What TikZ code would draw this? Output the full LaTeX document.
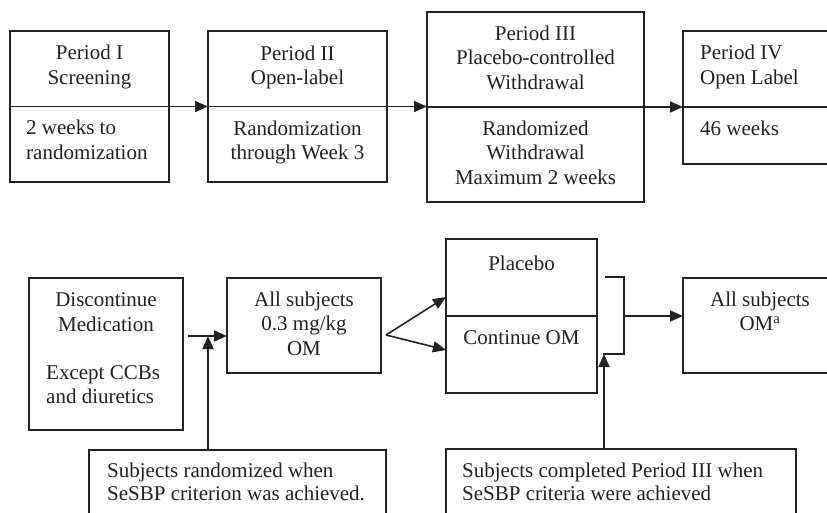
\documentclass[tikz,border=0pt]{standalone}
\usepackage{fontspec}
\setmainfont{Liberation Serif}
\usetikzlibrary{arrows.meta}
\definecolor{ink}{HTML}{222222}
\begin{document}
\begin{tikzpicture}[x=1pt,y=-1pt,
  box/.style={draw=ink, line width=1.6pt, inner sep=0pt, outer sep=0pt},
  lbl/.style={font=\fontsize{21}{24.5}\selectfont, text=ink, inner sep=0pt, align=center},
  lbll/.style={lbl, align=left, anchor=west},
  wire/.style={draw=ink, line width=1.6pt},
  arr/.style={wire, -{Triangle[length=13pt,width=11pt]}}]
\useasboundingbox (0,0) rectangle (827,513);
\fill[white] (0,0) rectangle (827,513);
\clip (0,0) rectangle (827,513);

% ---- study periods (top row) ----
\node[box, minimum width=159pt, minimum height=151pt] (b1) at (89.5,106.5) {};
\node[box, minimum width=179pt, minimum height=151pt] (b2) at (297.5,106.5) {};
\node[box, minimum width=217pt, minimum height=190pt] (b3) at (535.5,107) {};
\node[box, minimum width=159pt, minimum height=133pt] (b4) at (762.5,97.5) {};

\node[lbl] (t1a) at (89.5,67) {Period I\\Screening};
\node[lbll] (t1b) at (26,140) {2 weeks to\\randomization};
\node[lbl] (t2a) at (297.5,67.5) {Period II\\Open-label};
\node[lbl] (t2b) at (297.5,142.5) {Randomization\\through Week 3};
\node[lbl] (t3a) at (535.5,57.5) {Period III\\Placebo-controlled\\Withdrawal};
\node[lbl] (t3b) at (535.5,152.5) {Randomized\\Withdrawal\\Maximum 2 weeks};
\node[lbll] (t4a) at (700,67) {Period IV\\Open Label};
\node[lbll] (t4b) at (700,128) {46 weeks};

% timeline through the boxes
\draw[wire] (b1.west) -- (b1.east);
\draw[arr] (b1.east) -- (b2.west);
\draw[wire] (b2.west) -- (b2.east);
\draw[arr] (b2.east) -- (b2.east -| b3.west);
\draw[wire] (b3.west) -- (b3.east);
\draw[arr] (b3.east) -- (b3.east -| b4.west);
\draw[wire] (b3.east -| b4.west) -- (b3.east -| b4.east);

% ---- treatment flow (bottom row) ----
\node[box, minimum width=154pt, minimum height=152pt] (d1) at (106,354) {};
\node[box, minimum width=154pt, minimum height=95pt] (d2) at (304,325.5) {};
\node[box, minimum width=151pt, minimum height=154pt] (d3) at (521.5,316) {};
\node[box, minimum width=154pt, minimum height=95pt] (d4) at (760,325.5) {};
\node[box, minimum width=297pt, minimum height=80pt] (n1) at (237.5,490) {};
\node[box, minimum width=350pt, minimum height=81pt] (n2) at (621,489.5) {};

\node[lbl] (s1a) at (106,312) {Discontinue\\Medication};
\node[lbll] (s1b) at (46,384.5) {Except CCBs\\and diuretics};
\node[lbl] (s2) at (304,323.7) {All subjects\\0.3 mg/kg\\OM};
\node[lbl] (s3a) at (521.5,263) {Placebo};
\node[lbl] (s3b) at (521.5,338) {Continue OM};
\node[lbl] (s4) at (760,311.5) {All subjects\\OM\textsuperscript{a}};
\node[lbll, font=\fontsize{21}{22.5}\selectfont] (m1) at (107,482) {Subjects randomized when\\SeSBP criterion was achieved.};
\node[lbll, font=\fontsize{21}{23}\selectfont] (m2) at (462,482) {Subjects completed Period III when\\SeSBP criteria were achieved};

\draw[wire] (d3.west) -- (d3.east);

\coordinate (join) at (188,336);
\draw[arr] (join) -- (join -| d2.west);
\coordinate (up1) at (208,336);
\draw[arr] (up1 |- n1.north) -- (up1);

\coordinate (fork) at (386,335);
\coordinate (inPlacebo) at (446,297);
\coordinate (inCont) at (446,350);
\draw[arr] (fork) -- (inPlacebo);
\draw[arr] (fork) -- (inCont);

\coordinate (brTop) at (605,277);
\coordinate (brBot) at (603,354);
\coordinate (brMid) at (624,316);
\draw[wire] (brTop) -- (brTop -| brMid) -- (brBot -| brMid) -- (brBot);
\draw[arr] (brMid) -- (brMid -| d4.west);
\coordinate (up2) at (604,354);
\draw[arr] (up2 |- n2.north) -- (up2);
\end{tikzpicture}
\end{document}
